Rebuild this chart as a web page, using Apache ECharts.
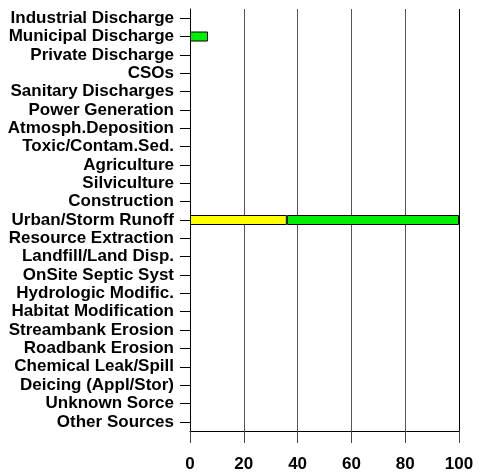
<!DOCTYPE html>
<html>
<head>
<meta charset="utf-8">
<script src="https://cdn.jsdelivr.net/npm/echarts@6/dist/echarts.min.js"></script>
<style>
  html, body { margin: 0; padding: 0; background: #fff; }
  #chart { width: 486px; height: 473px; }
</style>
</head>
<body>
<div id="chart"></div>
<script>
// pollution sources, top to bottom
var sources = [
  'Industrial Discharge', 'Municipal Discharge', 'Private Discharge', 'CSOs',
  'Sanitary Discharges', 'Power Generation', 'Atmosph.Deposition', 'Toxic/Contam.Sed.',
  'Agriculture', 'Silviculture', 'Construction', 'Urban/Storm Runoff',
  'Resource Extraction', 'Landfill/Land Disp.', 'OnSite Septic Syst', 'Hydrologic Modific.',
  'Habitat Modification', 'Streambank Erosion', 'Roadbank Erosion', 'Chemical Leak/Spill',
  'Deicing (Appl/Stor)', 'Unknown Sorce', 'Other Sources'
]
var yellowVals = ['-', '-', '-', '-', '-', '-', '-', '-', '-', '-', '-', 36,
  '-', '-', '-', '-', '-', '-', '-', '-', '-', '-', '-']
var greenVals = ['-', 6.7, '-', '-', '-', '-', '-', '-', '-', '-', '-', 64,
  '-', '-', '-', '-', '-', '-', '-', '-', '-', '-', '-']
var xTicks = [0, 20, 40, 60, 80, 100]

var myChart = echarts.init(document.getElementById('chart'))
var font = 'Liberation Sans'
var option = {
  animation: false,
  grid: { left: 190, right: 27, top: 9, bottom: 38 },
  xAxis: {
    type: 'value',
    min: xTicks[0],
    max: xTicks[xTicks.length - 1],
    interval: 20,
    axisLine: { show: true, lineStyle: { color: '#000', width: 1 } },
    axisTick: { show: true, length: 12, lineStyle: { color: '#444' } },
    axisLabel: {
      color: '#000', fontFamily: font, fontWeight: 'bold', fontSize: 17, margin: 25
    },
    splitLine: {
      show: true,
      lineStyle: { color: ['#000', '#555', '#555', '#555', '#555', '#000'], width: 1 }
    }
  },
  yAxis: {
    type: 'category',
    inverse: true,
    data: sources,
    axisLine: { show: true, lineStyle: { color: '#000', width: 1 } },
    axisTick: { show: true, alignWithLabel: true, length: 10, lineStyle: { color: '#000' } },
    axisLabel: {
      interval: 0,
      color: '#000', fontFamily: font, fontWeight: 'bold', fontSize: 17, margin: 16
    },
    splitLine: { show: false }
  },
  series: [
    {
      name: 'yellow',
      type: 'bar',
      stack: 'total',
      barWidth: 10,
      data: yellowVals,
      itemStyle: { color: '#ffff00', borderColor: '#000', borderWidth: 1 }
    },
    {
      name: 'green',
      type: 'bar',
      stack: 'total',
      barWidth: 10,
      data: greenVals,
      itemStyle: { color: '#00ee00', borderColor: '#000', borderWidth: 1 }
    }
  ]
}
myChart.setOption(option)
window.addEventListener('resize', function () {
  myChart.resize()
})
</script>
</body>
</html>
